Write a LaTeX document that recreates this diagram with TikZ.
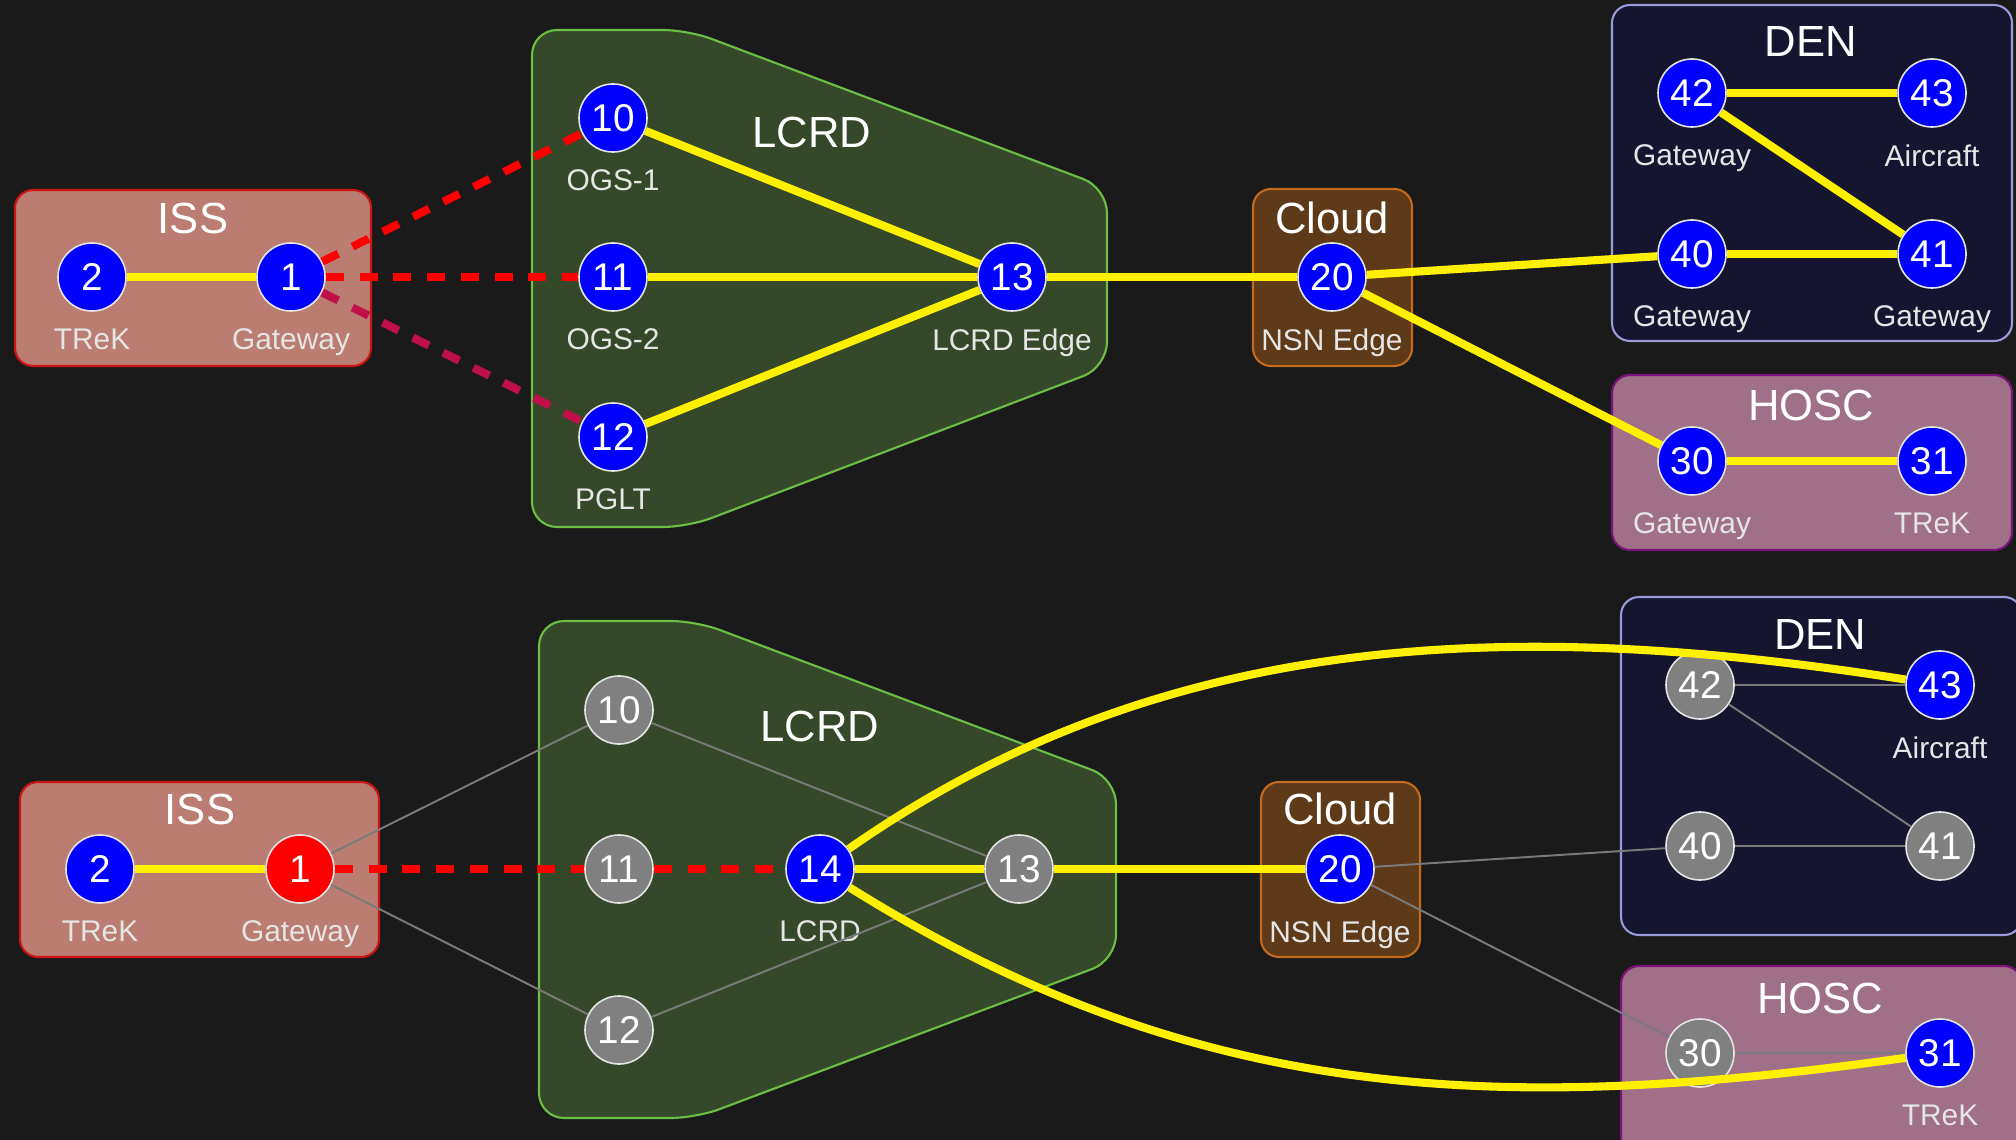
\documentclass[tikz,border=0pt]{standalone}
\usepackage{fontspec}
\setmainfont{Liberation Sans}
\definecolor{bgdark}{HTML}{1A1A1A}
\definecolor{issfill}{HTML}{BB7D72}
\definecolor{issdraw}{HTML}{CC1414}
\definecolor{lcrdfill}{HTML}{36482A}
\definecolor{lcrddraw}{HTML}{6CBF44}
\definecolor{cloudfill}{HTML}{5E3A18}
\definecolor{clouddraw}{HTML}{C46A1C}
\definecolor{denfill}{HTML}{151530}
\definecolor{dendraw}{HTML}{9A9AD8}
\definecolor{hoscfill}{HTML}{A07088}
\definecolor{hoscdraw}{HTML}{7A147A}
\definecolor{linkyellow}{HTML}{FFF000}
\definecolor{linkred}{HTML}{FF0000}
\definecolor{linkcrimson}{HTML}{C0104A}
\definecolor{linkgray}{HTML}{7A7A7A}
\definecolor{nodeblue}{HTML}{0000FF}
\definecolor{nodegray}{HTML}{808080}

\begin{document}
\begin{tikzpicture}[x=0.01cm, y=0.01cm]
      % Styles des groupes, des stations et des liens
      \tikzstyle{cluster} = [line width=0.6pt, rounded corners=0.18cm]
      \tikzstyle{issbox} = [cluster, fill=issfill, draw=issdraw]
      \tikzstyle{lcrdbox} = [cluster, fill=lcrdfill, draw=lcrddraw, rounded corners=0.25cm]
      \tikzstyle{cloudbox} = [cluster, fill=cloudfill, draw=clouddraw]
      \tikzstyle{denbox} = [cluster, fill=denfill, draw=dendraw]
      \tikzstyle{hoscbox} = [cluster, fill=hoscfill, draw=hoscdraw]
      \tikzstyle{boxtitle} = [text=white, inner sep=0, font=\fontsize{12.4}{14}\selectfont]
      \tikzstyle{sublabel} = [text=white!90!black, inner sep=0, yshift=-0.16cm, font=\fontsize{8.5}{10}\selectfont]
      \tikzstyle{station} = [circle, draw=white!90!black, line width=0.45pt, minimum size=0.68cm,
        inner sep=0, text=white, font=\fontsize{11}{12}\selectfont]
      \tikzstyle{upnode} = [station, fill=nodeblue]
      \tikzstyle{offnode} = [station, fill=nodegray]
      \tikzstyle{failnode} = [station, fill=linkred]
      \tikzstyle{link} = [draw=linkyellow, line width=2.3pt]
      \tikzstyle{laser} = [draw=linkred, line width=2.3pt, dash pattern=on 5.1pt off 4.5pt]
      \tikzstyle{laserpglt} = [laser, draw=linkcrimson]
      \tikzstyle{offlink} = [draw=linkgray, line width=0.55pt]

      % Fond
      \fill[bgdark] (0,0) rectangle (2016,-1140);
      \useasboundingbox (0,0) rectangle (2016,-1140);

      % ---------- Configuration nominale (haut) ----------
      \draw[issbox] (15,-190) rectangle (371,-366);
      \draw[lcrdbox] (532,-30) -- (688,-30) -- (1107,-188) -- (1107,-367) -- (688,-527) -- (532,-527) -- cycle;
      \draw[cloudbox] (1253,-189) rectangle (1412,-366);
      \draw[denbox] (1612,-5) rectangle (2012,-341);
      \draw[hoscbox] (1612,-375) rectangle (2012,-550);

      \node[boxtitle] (tiss) at (193,-218) {ISS};
      \node[boxtitle] (tlcrd) at (812,-132) {LCRD};
      \node[boxtitle] (tcloud) at (1332,-218) {Cloud};
      \node[boxtitle] (tden) at (1811,-42) {DEN};
      \node[boxtitle] (thosc) at (1811,-405) {HOSC};

      \node[upnode, label={[sublabel]below:TReK}] (t2) at (92,-277) {2};
      \node[upnode, label={[sublabel]below:Gateway}] (t1) at (291,-277) {1};
      \node[upnode, label={[sublabel]below:OGS-1}] (t10) at (613,-118) {10};
      \node[upnode, label={[sublabel]below:OGS-2}] (t11) at (613,-277) {11};
      \node[upnode, label={[sublabel]below:PGLT}] (t12) at (613,-437) {12};
      \node[upnode, label={[sublabel]below:LCRD Edge}] (t13) at (1012,-277) {13};
      \node[upnode, label={[sublabel]below:NSN Edge}] (t20) at (1332,-277) {20};
      \node[upnode, label={[sublabel]below:Gateway}] (t42) at (1692,-93) {42};
      \node[upnode, label={[sublabel]below:Aircraft}] (t43) at (1932,-93) {43};
      \node[upnode, label={[sublabel]below:Gateway}] (t40) at (1692,-254) {40};
      \node[upnode, label={[sublabel]below:Gateway}] (t41) at (1932,-254) {41};
      \node[upnode, label={[sublabel]below:Gateway}] (t30) at (1692,-461) {30};
      \node[upnode, label={[sublabel]below:TReK}] (t31) at (1932,-461) {31};

      \draw[link] (t2) -- (t1);
      \draw[laser] (t1) -- (t10);
      \draw[laser] (t1) -- (t11);
      \draw[laserpglt] (t1) -- (t12);
      \draw[link] (t10) -- (t13);
      \draw[link] (t11) -- (t13);
      \draw[link] (t12) -- (t13);
      \draw[link] (t13) -- (t20);
      \draw[link] (t20) -- (t40);
      \draw[link] (t20) -- (t30);
      \draw[link] (t42) -- (t43);
      \draw[link] (t42) -- (t41);
      \draw[link] (t40) -- (t41);
      \draw[link] (t30) -- (t31);

      % ---------- Passerelle ISS en panne (bas) ----------
      \draw[issbox] (20,-782) rectangle (379,-957);
      \draw[lcrdbox] (539,-621) -- (696,-621) -- (1116,-779) -- (1116,-960) -- (696,-1118) -- (539,-1118) -- cycle;
      \draw[cloudbox] (1261,-782) rectangle (1420,-957);
      \draw[denbox] (1621,-597) rectangle (2022,-935);
      \draw[hoscbox] (1621,-966) rectangle (2022,-1170);

      \node[boxtitle] (biss) at (200,-809) {ISS};
      \node[boxtitle] (blcrd) at (820,-726) {LCRD};
      \node[boxtitle] (bcloud) at (1340,-809) {Cloud};
      \node[boxtitle] (bden) at (1820,-634) {DEN};
      \node[boxtitle] (bhosc) at (1820,-998) {HOSC};

      \node[upnode, label={[sublabel]below:TReK}] (b2) at (100,-869) {2};
      \node[failnode, label={[sublabel]below:Gateway}] (b1) at (300,-869) {1};
      \node[offnode] (b10) at (619,-710) {10};
      \node[offnode] (b11) at (619,-869) {11};
      \node[offnode] (b12) at (619,-1030) {12};
      \node[upnode, label={[sublabel]below:LCRD}] (b14) at (820,-869) {14};
      \node[offnode] (b13) at (1019,-869) {13};
      \node[upnode, label={[sublabel]below:NSN Edge}] (b20) at (1340,-869) {20};
      \node[offnode] (b42) at (1700,-685) {42};
      \node[upnode, label={[sublabel]below:Aircraft}] (b43) at (1940,-685) {43};
      \node[offnode] (b40) at (1700,-846) {40};
      \node[offnode] (b41) at (1940,-846) {41};
      \node[offnode] (b30) at (1700,-1053) {30};
      \node[upnode, label={[sublabel]below:TReK}] (b31) at (1940,-1053) {31};

      \draw[link] (b2) -- (b1);
      \draw[offlink] (b1) -- (b10);
      \draw[offlink] (b1) -- (b12);
      \draw[laser] (b1) -- (b11);
      \draw[laser] (b11) -- (b14);
      \draw[offlink] (b10) -- (b13);
      \draw[offlink] (b12) -- (b13);
      \draw[link] (b14) -- (b13);
      \draw[link] (b13) -- (b20);
      \draw[offlink] (b20) -- (b40);
      \draw[offlink] (b20) -- (b30);
      \draw[offlink] (b42) -- (b43);
      \draw[offlink] (b42) -- (b41);
      \draw[offlink] (b40) -- (b41);
      \draw[offlink] (b30) -- (b31);
      \draw[link] (b14) to[out=35, in=171, looseness=0.93] (b43);
      \draw[link] (b14) to[out=-32, in=188, looseness=0.98] (b31);

    \end{tikzpicture}
\end{document}
